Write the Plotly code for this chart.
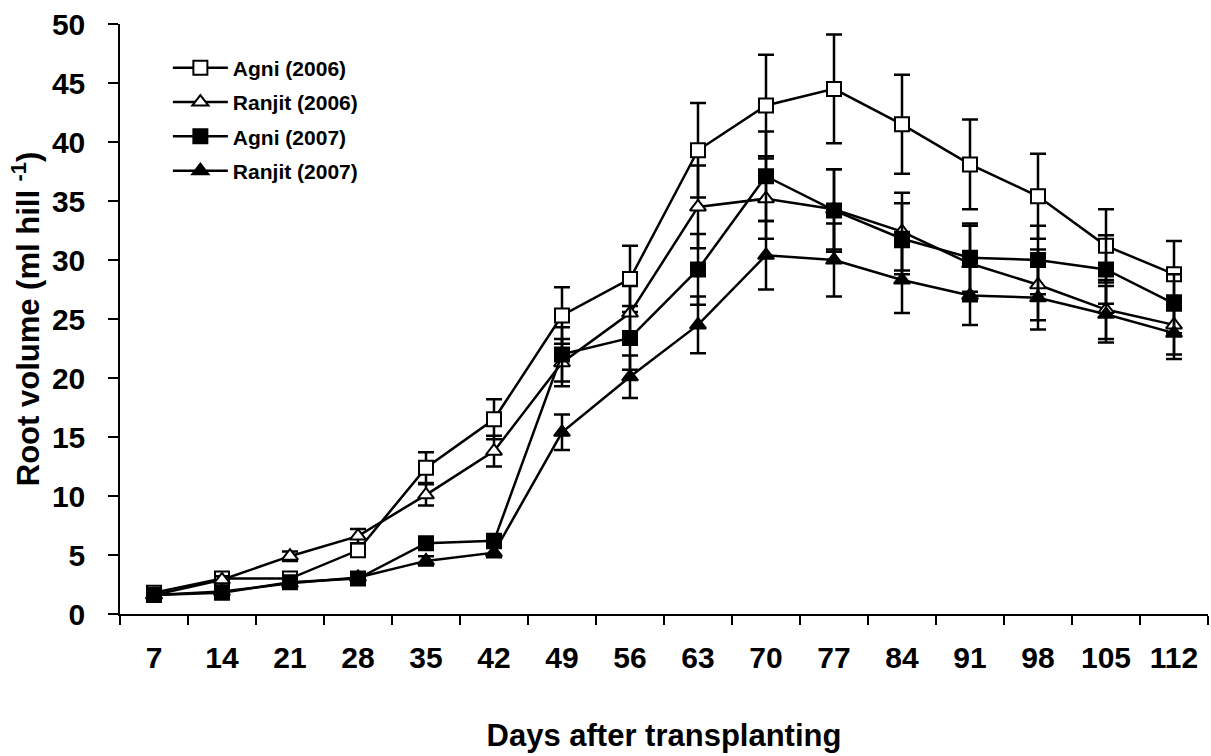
import plotly.graph_objects as go

days = ["7", "14", "21", "28", "35", "42", "49", "56", "63", "70", "77", "84", "91", "98", "105", "112"]

agni_2006 = [1.8, 3.0, 3.0, 5.4, 12.4, 16.5, 25.3, 28.4, 39.3, 43.1, 44.5, 41.5, 38.1, 35.4, 31.2, 28.8]
agni_2006_err = [0.2, 0.3, 0.3, 0.5, 1.3, 1.7, 2.4, 2.8, 4.0, 4.3, 4.6, 4.2, 3.8, 3.6, 3.1, 2.8]

ranjit_2006 = [1.6, 2.9, 4.9, 6.6, 10.1, 13.8, 21.3, 25.5, 34.5, 35.2, 34.3, 32.4, 29.7, 27.9, 25.8, 24.5]
ranjit_2006_err = [0.2, 0.3, 0.4, 0.6, 0.9, 1.3, 2.0, 2.3, 3.5, 3.4, 3.4, 3.3, 3.2, 3.0, 2.5, 2.5]

agni_2007 = [1.6, 1.8, 2.7, 3.0, 6.0, 6.2, 22.0, 23.4, 29.2, 37.1, 34.2, 31.8, 30.2, 30.0, 29.2, 26.3]
agni_2007_err = [0.2, 0.2, 0.3, 0.3, 0.4, 0.5, 2.3, 2.7, 3.0, 3.8, 3.5, 3.0, 2.9, 2.9, 2.9, 2.5]

ranjit_2007 = [1.6, 1.9, 2.6, 3.1, 4.5, 5.2, 15.4, 20.1, 24.5, 30.4, 30.0, 28.3, 27.0, 26.8, 25.4, 23.8]
ranjit_2007_err = [0.2, 0.2, 0.2, 0.3, 0.4, 0.4, 1.5, 1.8, 2.4, 2.9, 3.1, 2.8, 2.5, 2.7, 2.4, 2.2]

y_ticks = [0, 5, 10, 15, 20, 25, 30, 35, 40, 45, 50]

FONT = "Liberation Sans, Arial, sans-serif"

series = [
    ("Agni (2006)", agni_2006, agni_2006_err, "square", "white"),
    ("Ranjit (2006)", ranjit_2006, ranjit_2006_err, "triangle-up", "white"),
    ("Agni (2007)", agni_2007, agni_2007_err, "square", "black"),
    ("Ranjit (2007)", ranjit_2007, ranjit_2007_err, "triangle-up", "black"),
]

fig = go.Figure()
for name, vals, errs, sym, fill in series:
    fig.add_trace(go.Scatter(
        x=days, y=vals, name=name, legendgroup=name,
        mode="lines+markers",
        line=dict(color="black", width=2.5),
        marker=dict(symbol=sym, size=14, color=fill, line=dict(color="black", width=2)),
        error_y=dict(type="data", array=errs, visible=True, color="black", thickness=2.5, width=8),
    ))

fig.update_layout(
    width=1211, height=756,
    margin=dict(l=120, r=3, t=24, b=142),
    paper_bgcolor="white", plot_bgcolor="white",
    font=dict(family=FONT, color="black"),
    showlegend=True,
    legend=dict(
        x=0.044, y=0.96, xanchor="left", yanchor="top",
        bgcolor="rgba(0,0,0,0)", borderwidth=0,
        font=dict(family=FONT, size=21, color="black", weight="bold"),
        tracegroupgap=4, itemwidth=55,
    ),
)

fig.update_xaxes(
    type="category", range=[-0.5, 15.5],
    showline=True, linecolor="black", linewidth=1.5,
    ticks="outside", ticklen=9, tickwidth=1.5, tickcolor="black",
    tickson="boundaries", ticklabelstandoff=16,
    tickfont=dict(family=FONT, size=30, color="black", weight="bold"),
    showgrid=False, zeroline=False,
    title=dict(text="Days after transplanting", standoff=52,
               font=dict(family=FONT, size=31, color="black", weight="bold")),
)

fig.update_yaxes(
    range=[0, 50], tickvals=y_ticks,
    showline=True, linecolor="black", linewidth=1.5,
    ticks="outside", ticklen=10, tickwidth=1.5, tickcolor="black",
    ticklabelstandoff=17,
    tickfont=dict(family=FONT, size=30, color="black", weight="bold"),
    showgrid=False, zeroline=False,
    title=dict(text="Root volume (ml hill <sup>-1</sup>)", standoff=3,
               font=dict(family=FONT, size=31, color="black", weight="bold")),
)

fig.write_html("out.html")
